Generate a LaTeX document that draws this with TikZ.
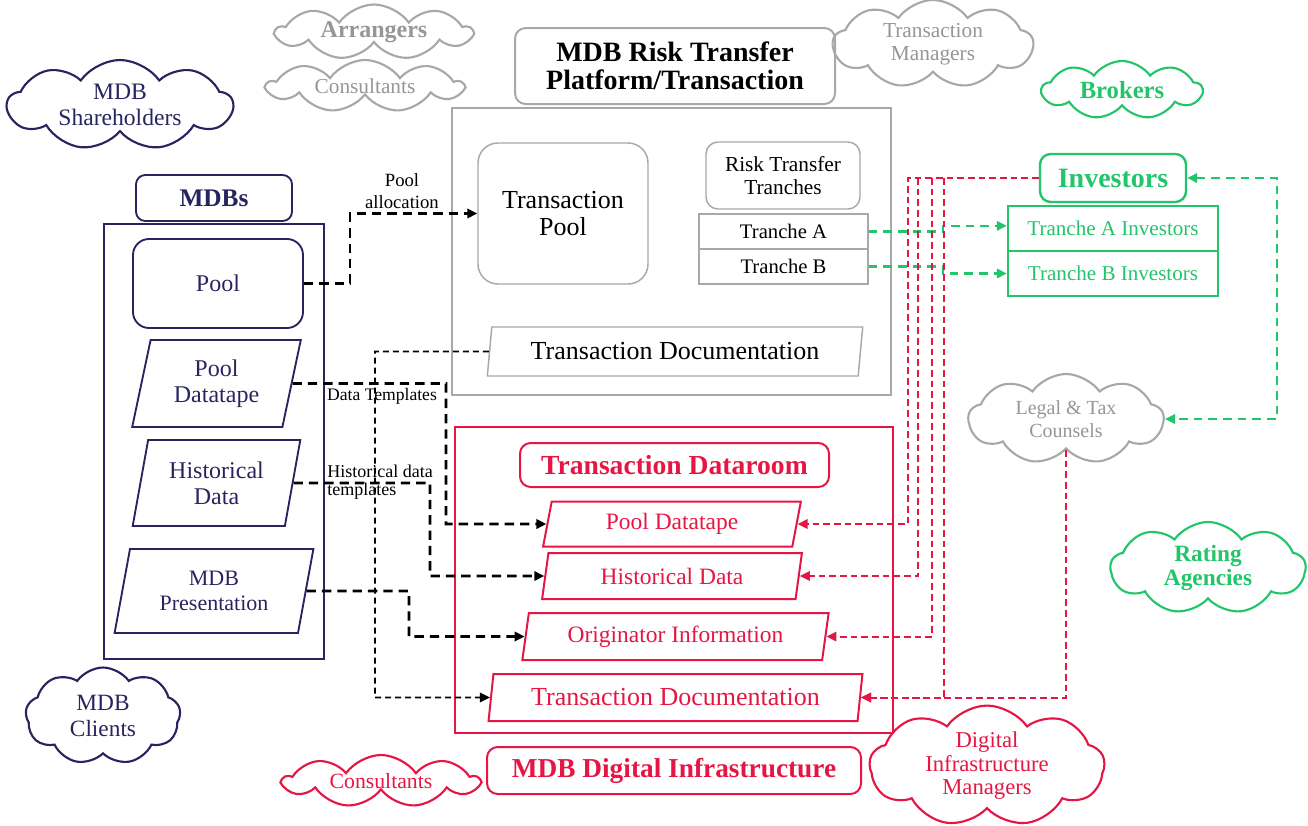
\documentclass[tikz,border=0pt]{standalone}
\usepackage{fontspec}
\setmainfont{Liberation Serif}
\usetikzlibrary{shapes.geometric,shapes.symbols,arrows.meta}
\definecolor{navy}{RGB}{40,36,96}
\definecolor{lgray}{RGB}{168,168,168}
\definecolor{tgray}{RGB}{150,150,150}
\definecolor{grn}{RGB}{34,197,105}
\definecolor{crim}{RGB}{230,22,68}
\newcommand{\fsz}[2]{\fontsize{#1}{#2}\selectfont}

\begin{document}
\begin{tikzpicture}[x=0.75pt,y=-0.75pt,>={Triangle[length=7.5pt,width=7pt]},
  every node/.style={inner sep=0pt,align=center},
  cld/.style={cloud,cloud puffs=9,cloud puff arc=110,cloud ignores aspect,line width=1.6pt},
  npara/.style={trapezium,trapezium left angle=76,trapezium right angle=104,trapezium stretches=true},
  rpara/.style={trapezium,trapezium left angle=77.5,trapezium right angle=102.5,trapezium stretches=true},
  gpara/.style={trapezium,trapezium left angle=78.5,trapezium right angle=101.5,trapezium stretches=true},
  nbox/.style={draw=navy,text=navy,line width=1.4pt},
  gbox/.style={draw=lgray,line width=1.1pt},
  grbox/.style={draw=grn,text=grn,line width=1.8pt},
  rbox/.style={draw=crim,text=crim,line width=1.5pt},
  blk/.style={black,line width=2pt,dash pattern=on 7pt off 4.5pt},
  thinblk/.style={black,line width=1.3pt,dash pattern=on 4.5pt off 3pt},
  grdash/.style={grn,line width=1.8pt,dash pattern=on 6.5pt off 4.5pt},
  rddash/.style={crim,line width=1.5pt,dash pattern=on 5pt off 3pt}]
\useasboundingbox (0,0) rectangle (1308,825);

% left side
\node[cld,draw=navy,text=navy,minimum width=168.75pt,minimum height=67.5pt,font=\fsz{17.7}{19.5}] (shareh) at (120,105) {MDB\\Shareholders};
\node[nbox,minimum width=165pt,minimum height=326.25pt] (mdbbox) at (214,441.5) {};
\node[nbox,rounded corners=7pt,minimum width=117pt,minimum height=34.5pt,font=\fsz{19}{21}\bfseries] (mdbs) at (214,198) {MDBs};
\node[nbox,rounded corners=12pt,minimum width=127.5pt,minimum height=66.75pt,font=\fsz{18}{19.5}] (pool) at (218,283.5) {Pool};
\node[nbox,npara,minimum width=126.75pt,minimum height=65.25pt,font=\fsz{18}{19.5}] (pooldt) at (216.5,383.5) {Pool\\Datatape};
\node[nbox,npara,minimum width=126.75pt,minimum height=64.5pt,font=\fsz{18}{19.5}] (histdt) at (216.5,483) {Historical\\Data};
\node[nbox,npara,minimum width=150pt,minimum height=63pt,font=\fsz{16.5}{19}] (mdbpres) at (214,591) {MDB\\Presentation};
\node[cld,draw=navy,text=navy,minimum width=116.25pt,minimum height=72.75pt,font=\fsz{17.5}{19}] (clients) at (103,716) {MDB\\Clients};

% platform
\node[cld,draw=lgray,text=tgray,minimum width=146.25pt,minimum height=41.25pt,font=\fsz{18}{20}\bfseries] (arrang) at (374,32) {Arrangers};
\node[cld,draw=lgray,text=tgray,minimum width=146.25pt,minimum height=39pt,font=\fsz{16}{18}] (consg) at (365,86) {Consultants};
\node[cld,draw=lgray,text=tgray,minimum width=150pt,minimum height=66pt,font=\fsz{16}{17.5}] (tmgr) at (933,44) {Transaction\\Managers};
\node[draw=lgray,line width=1.5pt,rounded corners=8pt,minimum width=240pt,minimum height=57pt,font=\fsz{21}{21}\bfseries] (title) at (675,66) {MDB Risk Transfer\\Platform/Transaction};
\node[draw=lgray,line width=1.5pt,minimum width=329.25pt,minimum height=215.25pt] (platbox) at (671.5,251.5) {};
\node[gbox,rounded corners=15pt,minimum width=127.5pt,minimum height=105.75pt,font=\fsz{19.5}{20}] (tpool) at (563,213.5) {Transaction\\Pool};
\node[gbox,rounded corners=9pt,minimum width=115.5pt,minimum height=50.25pt,font=\fsz{16}{17.5}] (rtt) at (783,175.5) {Risk Transfer\\Tranches};
\node[gbox,minimum width=126.75pt,minimum height=26.25pt,font=\fsz{15.5}{17}] (trA) at (783.5,231.5) {Tranche A};
\node[gbox,minimum width=126.75pt,minimum height=26.25pt,font=\fsz{15.5}{17}] (trB) at (783.5,266.5) {Tranche B};
\node[gbox,gpara,minimum width=282pt,minimum height=36.75pt,font=\fsz{19.5}{20}] (gdoc) at (675,351.5) {Transaction Documentation};

% investors
\node[cld,draw=grn,text=grn,minimum width=120pt,minimum height=43.5pt,font=\fsz{18.5}{20}\bfseries] (brokers) at (1122,90) {Brokers};
\node[grbox,rounded corners=8pt,minimum width=109.5pt,minimum height=36pt,font=\fsz{21}{21}\bfseries] (inv) at (1113,178) {Investors};
\node[grbox,minimum width=157.5pt,minimum height=33.75pt,font=\fsz{15.8}{17}] (invA) at (1113,228.5) {Tranche A Investors};
\node[grbox,minimum width=157.5pt,minimum height=33.75pt,font=\fsz{15.8}{17}] (invB) at (1113,273.5) {Tranche B Investors};
\node[cld,draw=lgray,text=tgray,minimum width=146.25pt,minimum height=67.5pt,font=\fsz{15}{17.2}] (legal) at (1066,419) {Legal \& Tax\\Counsels};
\node[cld,draw=grn,text=grn,minimum width=146.25pt,minimum height=69pt,font=\fsz{17.5}{17.5}\bfseries] (rating) at (1208,568) {Rating\\Agencies};

% dataroom
\node[rbox,line width=1.8pt,minimum width=328.5pt,minimum height=229.5pt] (roombox) at (674,580) {};
\node[rbox,rounded corners=8pt,minimum width=231.75pt,minimum height=33pt,font=\fsz{20.7}{21}\bfseries] (room) at (674.5,465) {Transaction Dataroom};
\node[rbox,rpara,minimum width=193.5pt,minimum height=33.75pt,font=\fsz{17.6}{18}] (rpdt) at (672,524) {Pool Datatape};
\node[rbox,rpara,minimum width=195pt,minimum height=34.5pt,font=\fsz{17.6}{18}] (rhist) at (672,576) {Historical Data};
\node[rbox,rpara,minimum width=230.25pt,minimum height=35.25pt,font=\fsz{17.6}{18}] (rorig) at (675.5,636.5) {Originator Information};
\node[rbox,rpara,minimum width=281.25pt,minimum height=35.25pt,font=\fsz{19.5}{20}] (rdoc) at (675.5,697.5) {Transaction Documentation};
\node[rbox,rounded corners=8pt,minimum width=280.5pt,minimum height=35.25pt,font=\fsz{20.5}{21}\bfseries] (digi) at (674,770.5) {MDB Digital Infrastructure};
\node[cld,draw=crim,text=crim,minimum width=146.25pt,minimum height=39pt,font=\fsz{16.3}{18}] (consr) at (381,781) {Consultants};
\node[cld,draw=crim,text=crim,minimum width=176.25pt,minimum height=81pt,font=\fsz{17}{17.6}] (dimgr) at (987,766) {Digital\\Infrastructure\\Managers};

% black connectors
\draw[blk,->] (pool.east) -- (350,283.5) |- (tpool.west);
\node[font=\fsz{14}{16}] (lpool) at (402,191) {Pool\\allocation};
\draw[blk,->] (pooldt.east) -- (446,383.5) |- (rpdt.west);
\node[font=\fsz{13.2}{14}] (ltmpl) at (382,396) {Data Templates};
\draw[blk,->] (histdt.east) -- (430,483) |- (rhist.west);
\node[anchor=west,align=left,font=\fsz{13.5}{14}] (lhist) at (327,482) {Historical data\\templates};
\draw[blk,->] (mdbpres.east) -- (409,591) |- (rorig.west);
\draw[thinblk,->] (gdoc.west) -- (375,351.5) |- (rdoc.west);

% green connectors
\draw[grdash,->] (trA.east) -- (943,231.5) |- ([yshift=2pt]invA.west);
\draw[grdash,->] (trB.east) -- (943,266.5) |- (invB.west);
\draw[grdash,<->] (inv.east) -- (1277,178) |- (legal.east);

% red connectors
\coordinate (r2) at (918,178);
\coordinate (r3) at (932,178);
\coordinate (r4) at (944,178);
\draw[rddash,->] (inv.west) -- (908,178) |- (rpdt.east);
\draw[rddash,->] (r2) |- (rhist.east);
\draw[rddash,->] (r3) |- (rorig.east);
\draw[rddash,->] (r4) |- (rdoc.east);
\draw[rddash,->] (legal.south) |- (rdoc.east);
\end{tikzpicture}
\end{document}
